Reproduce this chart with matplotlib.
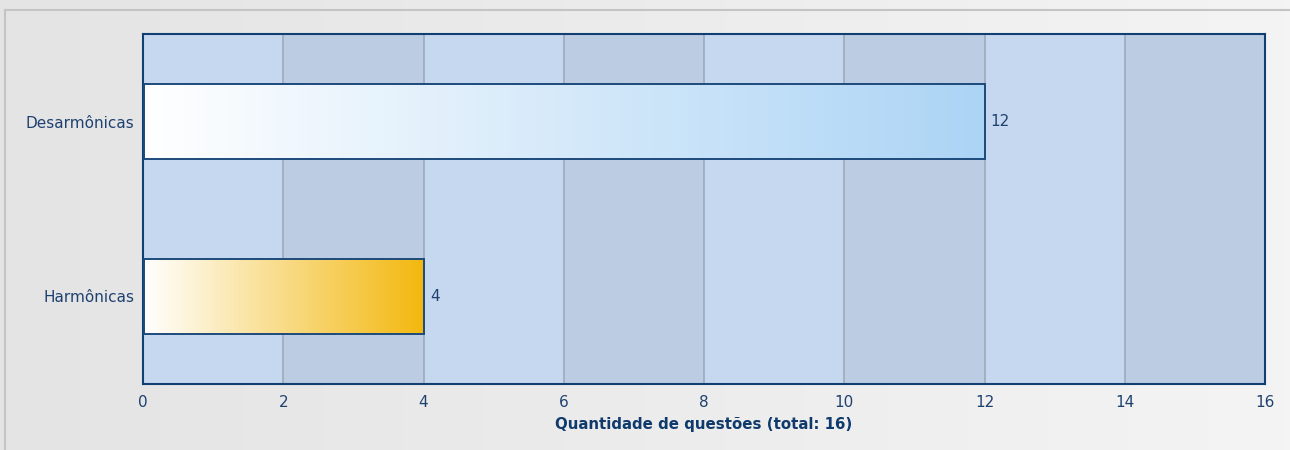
import numpy as np
import matplotlib
matplotlib.use("Agg")
import matplotlib.pyplot as plt
from matplotlib.colors import LinearSegmentedColormap, to_rgb
from matplotlib.patches import Rectangle

plt.rcParams["font.family"] = ["DejaVu Sans"]

categories = ["Harmônicas", "Desarmônicas"]
values = [4, 12]
end_colors = ["#f3b80f", "#acd4f5"]
xticks = [0, 2, 4, 6, 8, 10, 12, 14, 16]
xlabel = "Quantidade de questões (total: 16)"

text_color = "#1f4170"
axis_color = "#123f73"

fig = plt.figure(figsize=(12.9, 4.5), dpi=100)

# background gradient
bg = fig.add_axes([0, 0, 1, 1], zorder=-10)
grad = np.linspace(0, 1, 256).reshape(1, -1)
c0 = np.array(to_rgb("#e4e4e4")); c1 = np.array(to_rgb("#f4f4f4"))
img = c0[None, None, :] * (1 - grad[..., None]) + c1[None, None, :] * grad[..., None]
bg.imshow(img, aspect="auto", extent=[0, 1, 0, 1])
bg.set_xlim(0, 1); bg.set_ylim(0, 1)
bg.plot([4.5 / 1290, 4.5 / 1290], [0, 1 - 9.5 / 450], color="#c4c4c4", lw=1.5)
bg.plot([4.5 / 1290, 1], [1 - 9.5 / 450, 1 - 9.5 / 450], color="#c4c4c4", lw=1.5)
bg.axis("off")

W, H = 1290, 450
x0, x1 = 143, 1265
y0, y1 = 34, 384
ax = fig.add_axes([x0 / W, 1 - y1 / H, (x1 - x0) / W, (y1 - y0) / H])
ax.set_xlim(0, 16)
ax.set_ylim(-0.5, 1.5)

# alternating bands
for i in range(0, 16, 2):
    col = "#c6d8ef" if (i // 2) % 2 == 0 else "#bccce2"
    ax.axvspan(i, i + 2, color=col, lw=0, zorder=0)
for t in xticks[1:-1]:
    ax.axvline(t, color="#9eaabb", lw=1.2, zorder=1)

bar_h = 0.425
for i, (v, ec) in enumerate(zip(values, end_colors)):
    cmap = LinearSegmentedColormap.from_list("g%d" % i, ["#ffffff", ec])
    im = ax.imshow(grad, cmap=cmap, aspect="auto",
                   extent=[0.02, v, i - bar_h / 2, i + bar_h / 2], zorder=2)
    rect = Rectangle((0.02, i - bar_h / 2), v - 0.02, bar_h, fill=False,
                     edgecolor="#1d4a7c", lw=1.4, zorder=3)
    ax.add_patch(rect)
    im.set_clip_path(rect)
    ax.text(v + 0.09, i, str(v), va="center", ha="left",
            fontsize=11, color=text_color, zorder=4)

ax.set_xlim(0, 16)
ax.set_ylim(-0.5, 1.5)
ax.set_xticks(xticks)
ax.set_xticklabels([str(t) for t in xticks])
ax.set_yticks(range(len(categories)))
ax.set_yticklabels(categories)
ax.tick_params(axis="both", length=0, labelsize=11, colors=text_color)
ax.tick_params(axis="x", pad=8)
ax.tick_params(axis="y", pad=6)
for s in ax.spines.values():
    s.set_color(axis_color)
    s.set_linewidth(1.5)
ax.set_xlabel(xlabel, fontsize=10.8, fontweight="bold", color="#0f3a6b", labelpad=5)

fig.savefig("out.png", dpi=100)
